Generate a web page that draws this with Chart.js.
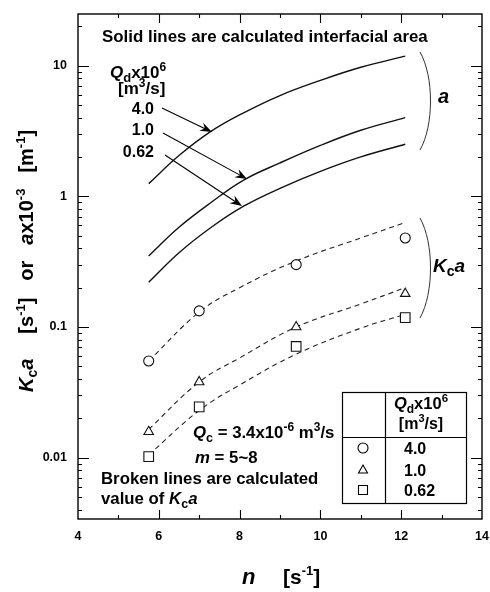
<!DOCTYPE html>
<html lang="en">
  <head>
    <meta charset="UTF-8" />
    <title>Kca and interfacial area vs n</title>
    <script src="https://cdn.jsdelivr.net/npm/chart.js"></script>
    <style>
      html, body { margin: 0; padding: 0; background: #fff; }
      canvas { display: block; }
    </style>
  </head>
  <body>
    <canvas id="chart" width="490" height="592"></canvas>
    <script>
      // calculated interfacial area a x10^-3 [m-1] (solid lines)
      const nCurve = [5.75, 6.5, 7.3, 8.1, 9.0, 10.0, 11.0, 12.1];
      const aQd40 = [1.25, 2.05, 3.15, 4.35, 5.9, 7.7, 9.7, 11.8];
      const aQd10 = [0.35, 0.58, 0.9, 1.33, 1.8, 2.45, 3.2, 4.0];
      const aQd062 = [0.22, 0.37, 0.58, 0.84, 1.15, 1.55, 2.0, 2.5];

      // calculated Kca [s-1] (broken lines)
      const nCalc = [5.75, 7.0, 8.0, 9.4, 11.0, 12.1];
      const kcaCalc40 = [0.055, 0.13, 0.2, 0.32, 0.48, 0.63];
      const kcaCalc10 = [0.0165, 0.038, 0.058, 0.1, 0.15, 0.2];
      const kcaCalc062 = [0.0105, 0.023, 0.036, 0.062, 0.098, 0.125];

      // measured Kca [s-1]
      const nExp = [5.75, 7.0, 9.4, 12.1];
      const kcaExp40 = [0.055, 0.133, 0.3, 0.48];
      const kcaExp10 = [0.0158, 0.038, 0.1, 0.18];
      const kcaExp062 = [0.0102, 0.0245, 0.071, 0.118];

      // axes
      const xTickLabels = [4, 6, 8, 10, 12, 14];
      const xMajorTicks = [6, 8, 10, 12];
      const xMinorTicks = [5, 7, 9, 11, 13];
      const yTickLabels = [0.01, 0.1, 1, 10];
      const legendValues = ["4.0", "1.0", "0.62"];

      const pts = (xs, ys) => xs.map((x, i) => ({ x: x, y: ys[i] }));
      const F = (size, style) =>
        (style || "") + " bold " + size + 'px "Liberation Sans", Arial, sans-serif';

      function solid(data) {
        return {
          data: data, showLine: true, borderColor: "#111", borderWidth: 1.4,
          pointRadius: 0, tension: 0.4, fill: false, order: 1,
        };
      }
      function dashed(data) {
        return {
          data: data, showLine: true, borderColor: "#222", borderWidth: 1.1,
          borderDash: [5, 4], pointRadius: 0, tension: 0.4, fill: false, order: 1,
        };
      }
      function markers(data, style, r) {
        return {
          data: data, showLine: false, pointStyle: style, pointRadius: r,
          pointBorderColor: "#111", pointBackgroundColor: "#fff",
          pointBorderWidth: 1.1, order: 0,
        };
      }

      // draw a line of text made of pieces (sub/superscripts, italics, gaps)
      function rich(ctx, parts, x, y, align) {
        const wOf = (p) => {
          if (p.gap) return p.gap;
          ctx.font = p.f;
          return ctx.measureText(p.t).width;
        };
        let w = 0;
        parts.forEach((p) => { w += wOf(p); });
        let cx = align === "center" ? x - w / 2 : align === "right" ? x - w : x;
        parts.forEach((p) => {
          if (!p.gap) {
            ctx.font = p.f;
            ctx.fillText(p.t, cx, y + (p.dy || 0));
          }
          cx += wOf(p);
        });
        return w;
      }

      function arrow(ctx, x1, y1, x2, y2) {
        const ang = Math.atan2(y2 - y1, x2 - x1);
        ctx.beginPath();
        ctx.moveTo(x1, y1);
        ctx.lineTo(x2 - 6 * Math.cos(ang), y2 - 6 * Math.sin(ang));
        ctx.stroke();
        ctx.save();
        ctx.translate(x2, y2);
        ctx.rotate(ang);
        ctx.beginPath();
        ctx.moveTo(0, 0);
        ctx.lineTo(-12, -4.5);
        ctx.lineTo(-8, 0);
        ctx.lineTo(-12, 4.5);
        ctx.closePath();
        ctx.fill();
        ctx.restore();
      }

      function brace(ctx, x, y1, y2, bulge) {
        ctx.beginPath();
        ctx.moveTo(x, y1);
        ctx.bezierCurveTo(x + bulge, y1 + (y2 - y1) * 0.25, x + bulge, y2 - (y2 - y1) * 0.25, x, y2);
        ctx.stroke();
      }

      function legendMark(ctx, style, x, y) {
        ctx.beginPath();
        if (style === "circle") {
          ctx.arc(x, y, 5, 0, Math.PI * 2);
        } else if (style === "triangle") {
          ctx.moveTo(x, y - 5);
          ctx.lineTo(x + 4.5, y + 3);
          ctx.lineTo(x - 4.5, y + 3);
          ctx.closePath();
        } else {
          ctx.rect(x - 4.5, y - 4.5, 9, 9);
        }
        ctx.stroke();
      }

      const decor = {
        id: "decor",
        afterDraw(chart) {
          const ctx = chart.ctx;
          const a = chart.chartArea;
          const xs = chart.scales.x, ys = chart.scales.y;
          ctx.save();
          ctx.strokeStyle = "#000";
          ctx.fillStyle = "#000";

          // frame
          ctx.lineWidth = 1.4;
          ctx.strokeRect(a.left, a.top, a.right - a.left, a.bottom - a.top);

          // ticks (inward, mirrored)
          ctx.lineWidth = 1.1;
          ctx.beginPath();
          xMajorTicks.concat(xMinorTicks).forEach((v) => {
            const len = xMajorTicks.includes(v) ? 9 : 4;
            const px = Math.round(xs.getPixelForValue(v)) + 0.5;
            ctx.moveTo(px, a.bottom); ctx.lineTo(px, a.bottom - len);
            ctx.moveTo(px, a.top); ctx.lineTo(px, a.top + len);
          });
          for (let d = 0.001; d <= 10; d *= 10) {
            for (let m = 1; m <= 9; m++) {
              const v = d * m;
              if (v < ys.min || v > ys.max) continue;
              const len = m === 1 ? 11 : 4;
              const py = Math.round(ys.getPixelForValue(v)) + 0.5;
              ctx.moveTo(a.left, py); ctx.lineTo(a.left + len, py);
              ctx.moveTo(a.right, py); ctx.lineTo(a.right - len, py);
            }
          }
          ctx.stroke();

          // tick labels
          ctx.font = F(12.5);
          ctx.textBaseline = "middle";
          ctx.textAlign = "right";
          yTickLabels.forEach((v) => {
            ctx.fillText(String(v), a.left - 11, ys.getPixelForValue(v));
          });
          ctx.textAlign = "center";
          xTickLabels.forEach((v) => {
            ctx.fillText(String(v), xs.getPixelForValue(v), a.bottom + 18);
          });

          // axis titles
          ctx.textAlign = "left";
          ctx.textBaseline = "alphabetic";
          rich(ctx, [{ t: "n", f: F(22, "italic") }], 242, 584, "left");
          rich(ctx, [
            { t: "[s", f: F(21) },
            { t: "-1", f: F(13), dy: -9 },
            { t: "]", f: F(21) },
          ], 283, 584, "left");

          ctx.save();
          ctx.translate(33, 392);
          ctx.rotate(-Math.PI / 2);
          rich(ctx, [
            { t: "K", f: F(20, "italic") },
            { t: "c", f: F(14), dy: 4 },
            { t: "a", f: F(20, "italic") },
            { gap: 25 },
            { t: "[s", f: F(20) },
            { t: "-1", f: F(13), dy: -8 },
            { t: "]", f: F(20) },
            { gap: 17 },
            { t: "or", f: F(20) },
            { gap: 16 },
            { t: "a", f: F(20, "italic") },
            { t: "x10", f: F(20) },
            { t: "-3", f: F(13), dy: -8 },
            { gap: 16 },
            { t: "[m", f: F(20) },
            { t: "-1", f: F(13), dy: -8 },
            { t: "]", f: F(20) },
          ], 0, 0, "left");
          ctx.restore();

          // annotations
          rich(ctx, [{ t: "Solid lines are calculated interfacial area", f: F(16.9) }], 102, 42, "left");
          rich(ctx, [
            { t: "Q", f: F(17, "italic") },
            { t: "d", f: F(13), dy: 4 },
            { t: "x10", f: F(17) },
            { t: "6", f: F(12), dy: -7 },
          ], 110, 78, "left");
          rich(ctx, [
            { t: "[m", f: F(17) },
            { t: "3", f: F(12), dy: -7 },
            { t: "/s]", f: F(17) },
          ], 118, 94, "left");
          rich(ctx, [{ t: "4.0", f: F(16) }], 154, 114, "right");
          rich(ctx, [{ t: "1.0", f: F(16) }], 154, 135, "right");
          rich(ctx, [{ t: "0.62", f: F(16) }], 154, 157, "right");

          ctx.lineWidth = 1.1;
          arrow(ctx, 162, 108, 212, 132);
          arrow(ctx, 163, 133, 247, 179);
          arrow(ctx, 165, 155, 242, 206);

          ctx.strokeStyle = "#333";
          ctx.lineWidth = 1;
          brace(ctx, 420, 52, 150, 14);
          brace(ctx, 420, 218, 318, 14);
          ctx.strokeStyle = "#000";
          rich(ctx, [{ t: "a", f: F(20, "italic") }], 438, 103, "left");
          rich(ctx, [
            { t: "K", f: F(19, "italic") },
            { t: "c", f: F(14), dy: 4 },
            { t: "a", f: F(19, "italic") },
          ], 433, 272, "left");

          rich(ctx, [
            { t: "Q", f: F(16.8, "italic") },
            { t: "c", f: F(12.5), dy: 4 },
            { t: " = 3.4x10", f: F(16.8) },
            { t: "-6", f: F(12), dy: -7 },
            { t: " m", f: F(16.8) },
            { t: "3", f: F(12), dy: -7 },
            { t: "/s", f: F(16.8) },
          ], 193, 438, "left");
          rich(ctx, [
            { t: "m", f: F(16.8, "italic") },
            { t: " = 5~8", f: F(16.8) },
          ], 195, 463, "left");
          rich(ctx, [{ t: "Broken lines are calculated", f: F(16.8) }], 101, 484, "left");
          rich(ctx, [
            { t: "value of ", f: F(16.8) },
            { t: "K", f: F(16.8, "italic") },
            { t: "c", f: F(12.5), dy: 4 },
            { t: "a", f: F(16.8, "italic") },
          ], 101, 504, "left");

          // legend table
          ctx.fillStyle = "#fff";
          ctx.fillRect(342, 392, 124, 111);
          ctx.fillStyle = "#000";
          ctx.lineWidth = 1.2;
          ctx.strokeRect(342.5, 392.5, 124, 111);
          ctx.beginPath();
          ctx.moveTo(385.5, 392.5); ctx.lineTo(385.5, 503.5);
          ctx.moveTo(342.5, 437.5); ctx.lineTo(466.5, 437.5);
          ctx.stroke();
          rich(ctx, [
            { t: "Q", f: F(16.5, "italic") },
            { t: "d", f: F(12), dy: 4 },
            { t: "x10", f: F(16.5) },
            { t: "6", f: F(11.5), dy: -7 },
          ], 421, 409, "center");
          rich(ctx, [
            { t: "[m", f: F(16) },
            { t: "3", f: F(11), dy: -7 },
            { t: "/s]", f: F(16) },
          ], 421, 429, "center");
          const rowY = [448, 470, 490];
          ["circle", "triangle", "rect"].forEach((s, i) => {
            ctx.lineWidth = 1.1;
            legendMark(ctx, s, 363, rowY[i]);
            rich(ctx, [{ t: legendValues[i], f: F(16) }], 404, rowY[i] + 5.5, "left");
          });

          ctx.restore();
        },
      };

      new Chart(document.getElementById("chart"), {
        type: "scatter",
        data: {
          datasets: [
            markers(pts(nExp, kcaExp40), "circle", 5),
            markers(pts(nExp, kcaExp10), "triangle", 5.5),
            markers(pts(nExp, kcaExp062), "rect", 6.8),
            solid(pts(nCurve, aQd40)),
            solid(pts(nCurve, aQd10)),
            solid(pts(nCurve, aQd062)),
            dashed(pts(nCalc, kcaCalc40)),
            dashed(pts(nCalc, kcaCalc10)),
            dashed(pts(nCalc, kcaCalc062)),
          ],
        },
        options: {
          responsive: false,
          animation: false,
          layout: { padding: { left: 78, right: 8, top: 14, bottom: 73 } },
          scales: {
            x: { type: "linear", min: 4, max: 14, display: false },
            y: { type: "logarithmic", min: 0.0034, max: 24.8, display: false },
          },
          plugins: { legend: { display: false }, tooltip: { enabled: false } },
        },
        plugins: [decor],
      });
    </script>
  </body>
</html>
